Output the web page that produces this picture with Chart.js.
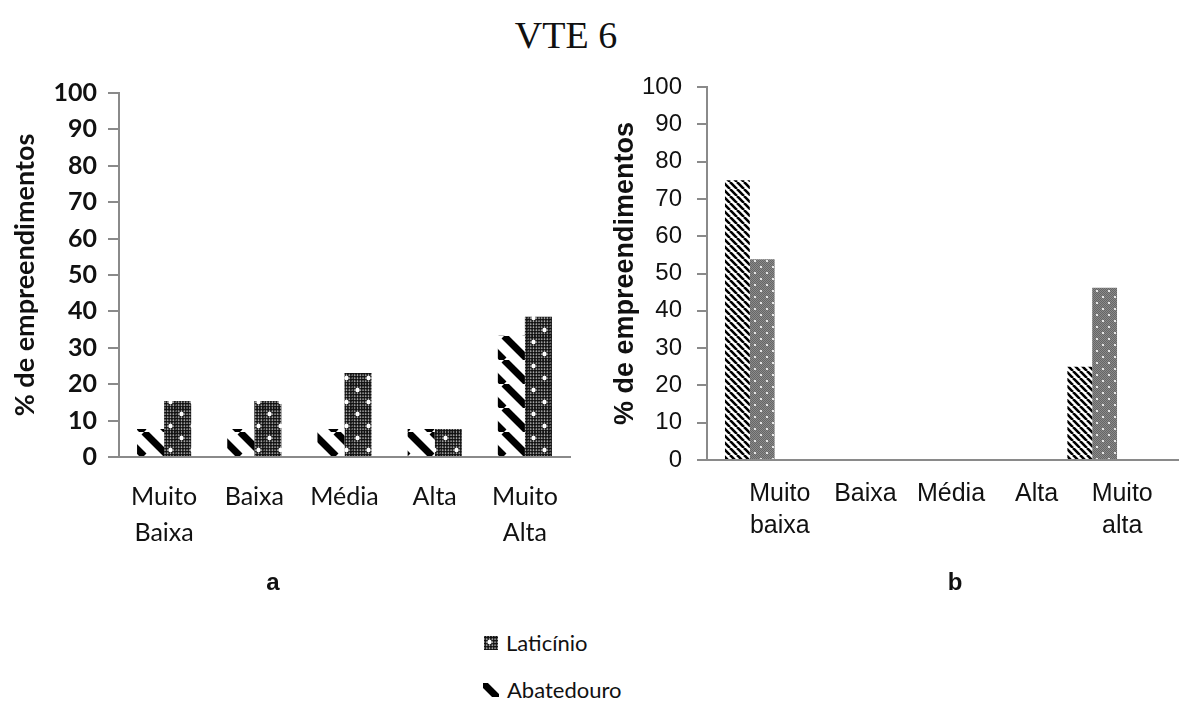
<!DOCTYPE html>
<html>
<head>
<meta charset="utf-8">
<script src="https://cdn.jsdelivr.net/npm/chart.js@4.4.0/dist/chart.umd.min.js"></script>
<style>
  body { margin: 0; background: #fff; }
  #pagina { position: relative; width: 1179px; height: 709px; overflow: hidden; background: #fff; }
  #titulo {
    position: absolute; left: 466px; top: 13px; width: 200px; text-align: center;
    font-family: 'Liberation Serif', 'Times New Roman', serif; font-size: 38px; line-height: 44px; color: #111;
  }
  canvas.grafico { position: absolute; top: 0; }
  .painel {
    position: absolute; width: 40px; text-align: center; top: 568px; line-height: 28px;
    font-family: 'Liberation Sans', Arial, sans-serif; font-weight: bold; font-size: 24px; color: #111;
  }
  .item-legenda {
    position: absolute; height: 28px; line-height: 28px;
    font-family: Lato, 'Open Sans', sans-serif; font-size: 22px; color: #111;
  }
  .item-legenda canvas { position: absolute; top: 7px; left: 0; }
  .item-legenda span { position: absolute; white-space: nowrap; }
</style>
</head>
<body>
<div id="pagina">
  <div id="titulo">VTE 6</div>
  <canvas id="graficoA" class="grafico" width="590" height="610" style="left:0px"></canvas>
  <canvas id="graficoB" class="grafico" width="589" height="610" style="left:590px"></canvas>
  <div id="paineis"></div>
  <div id="legenda"></div>
</div>
<script>
// Dados
const nomesSeries = ['Abatedouro', 'Laticínio'];
const categoriasA = [['Muito', 'Baixa'], 'Baixa', 'Média', 'Alta', ['Muito', 'Alta']];
const categoriasB = [['Muito', 'baixa'], 'Baixa', 'Média', 'Alta', ['Muito', 'alta']];
const abatedouroA = [7.7, 7.7, 7.7, 7.7, 33.3];
const laticinioA = [15.4, 15.4, 23.1, 7.7, 38.5];
const abatedouroB = [75, 0, 0, 0, 25];
const laticinioB = [53.8, 0, 0, 0, 46.2];
const eixoYMin = 0;
const eixoYMax = 100;
const eixoYPasso = 10;
const tituloEixoY = '% de empreendimentos';
const rotulosPaineis = ['a', 'b'];

const corEixo = '#8a8a8a';
const corTexto = '#111';

// Listras diagonais "\" pretas sobre branco
function listras(periodo, espessura) {
    const c = document.createElement('canvas');
    c.width = periodo; c.height = periodo;
    const g = c.getContext('2d');
    g.fillStyle = '#fff';
    g.fillRect(0, 0, periodo, periodo);
    g.strokeStyle = '#000';
    g.lineWidth = espessura;
    g.beginPath();
    [-periodo, 0, periodo].forEach(d => {
        g.moveTo(d, 0);
        g.lineTo(d + periodo, periodo);
    });
    g.stroke();
    return c;
}

// Textura escura quadriculada com bolinhas brancas (gráfico a)
function texturaEscura() {
    const c = document.createElement('canvas');
    c.width = 22; c.height = 24;
    const g = c.getContext('2d');
    g.fillStyle = '#fff';
    g.fillRect(0, 0, 22, 24);
    g.fillStyle = '#111';
    for (let x = 0; x < 22; x += 2.75) {
        for (let y = 0; y < 24; y += 3) {
            g.beginPath();
            g.arc(x + 1.4, y + 1.5, 1.55, 0, Math.PI * 2);
            g.fill();
        }
    }
    g.fillStyle = '#fff';
    [[5.5, 6], [16.5, 18]].forEach(([x, y]) => {
        g.beginPath();
        g.arc(x, y, 2.2, 0, Math.PI * 2);
        g.fill();
    });
    return c;
}

// Textura cinza pontilhada (gráfico b)
function texturaCinza() {
    const c = document.createElement('canvas');
    c.width = 12; c.height = 12;
    const g = c.getContext('2d');
    g.fillStyle = '#8a8a8a';
    g.fillRect(0, 0, 12, 12);
    g.fillStyle = '#666';
    for (let x = 0; x < 12; x++) {
        for (let y = 0; y < 12; y++) {
            if ((x + y) % 2 === 0) g.fillRect(x, y, 1, 1);
        }
    }
    g.fillStyle = '#fff';
    [[3, 3], [9, 9]].forEach(([x, y]) => {
        g.beginPath();
        g.arc(x, y, 1.1, 0, Math.PI * 2);
        g.fill();
    });
    return c;
}

// Estende a linha do eixo x até a borda do canvas
const extensaoEixo = {
    id: 'extensaoEixo',
    afterDraw(chart, args, opts) {
        if (!opts.ativo) return;
        const { ctx, chartArea } = chart;
        ctx.save();
        ctx.strokeStyle = corEixo;
        ctx.lineWidth = 2;
        ctx.beginPath();
        ctx.moveTo(chartArea.right - 1, chartArea.bottom);
        ctx.lineTo(chart.width, chartArea.bottom);
        ctx.stroke();
        ctx.restore();
    }
};

// Função para criar cada gráfico de barras
function criarGrafico(idCanvas, categorias, abatedouro, laticinio, cfg) {
    const ctx = document.getElementById(idCanvas).getContext('2d');
    const padraoAbat = ctx.createPattern(cfg.imgAbat, 'repeat');
    const padraoLat = ctx.createPattern(cfg.imgLat, 'repeat');

    const config = {
        type: 'bar',
        data: {
            labels: categorias,
            datasets: [
                {
                    label: nomesSeries[0],
                    data: abatedouro,
                    backgroundColor: padraoAbat,
                    borderWidth: 0,
                    categoryPercentage: cfg.categoria,
                    barPercentage: 1
                },
                {
                    label: nomesSeries[1],
                    data: laticinio,
                    backgroundColor: padraoLat,
                    borderWidth: 0,
                    categoryPercentage: cfg.categoria,
                    barPercentage: 1
                }
            ]
        },
        options: {
            responsive: false,
            animation: false,
            devicePixelRatio: 1,
            layout: { padding: cfg.padding },
            plugins: {
                legend: { display: false },
                tooltip: { enabled: false },
                extensaoEixo: { ativo: cfg.estenderEixo }
            },
            scales: {
                x: {
                    grid: { display: false, drawTicks: false },
                    border: { display: true, color: corEixo, width: 2 },
                    ticks: {
                        color: corTexto,
                        font: { family: cfg.fonte, size: cfg.tamanhoX, lineHeight: cfg.alturaLinhaX },
                        padding: cfg.paddingX,
                        labelOffset: cfg.deslocamentoRotulo,
                        maxRotation: 0,
                        autoSkip: false
                    },
                    afterFit: s => { s.height = cfg.alturaEixoX; }
                },
                y: {
                    min: eixoYMin,
                    max: eixoYMax,
                    ticks: {
                        stepSize: eixoYPasso,
                        color: corTexto,
                        font: { family: cfg.fonte, size: cfg.tamanhoY, weight: cfg.pesoY },
                        padding: cfg.paddingY
                    },
                    grid: {
                        drawOnChartArea: false,
                        drawTicks: true,
                        tickLength: cfg.marca,
                        color: corEixo,
                        lineWidth: 2
                    },
                    border: { color: corEixo, width: 2 },
                    title: {
                        display: true,
                        text: tituloEixoY,
                        color: corTexto,
                        font: { family: cfg.fonte, size: cfg.tamanhoTitulo, weight: 'bold' },
                        padding: { top: cfg.paddingTitulo, bottom: 0 }
                    },
                    afterFit: s => { s.width = cfg.larguraEixoY; }
                }
            }
        },
        plugins: [extensaoEixo]
    };

    return new Chart(ctx, config);
}

const imgListraGrossa = listras(24, 7);
const imgListraFina = listras(7, 2.6);
const imgEscura = texturaEscura();
const imgCinza = texturaCinza();

criarGrafico('graficoA', categoriasA, abatedouroA, laticinioA, {
    imgAbat: imgListraGrossa, imgLat: imgEscura,
    categoria: 0.6,
    padding: { top: 93, right: 20, bottom: 0, left: 0 },
    fonte: 'Lato', tamanhoX: 25, alturaLinhaX: 1.44, paddingX: 22, deslocamentoRotulo: 0,
    tamanhoY: 25, pesoY: 'bold', paddingY: 11, marca: 11,
    tamanhoTitulo: 27, paddingTitulo: 9,
    larguraEixoY: 119, alturaEixoX: 153,
    estenderEixo: false
});

criarGrafico('graficoB', categoriasB, abatedouroB, laticinioB, {
    imgAbat: imgListraFina, imgLat: imgCinza,
    categoria: 0.58,
    padding: { top: 87, right: 44, bottom: 0, left: 0 },
    fonte: 'Liberation Sans', tamanhoX: 25, alturaLinhaX: 1.28, paddingX: 18, deslocamentoRotulo: 30,
    tamanhoY: 24, pesoY: 'normal', paddingY: 15, marca: 10,
    tamanhoTitulo: 27, paddingTitulo: 19,
    larguraEixoY: 117, alturaEixoX: 150,
    estenderEixo: true
});

// Rótulos dos painéis (a, b) abaixo de cada gráfico
function criarRotulosPaineis() {
    const centros = [273, 955];
    const div = document.getElementById('paineis');
    rotulosPaineis.forEach((texto, i) => {
        const el = document.createElement('div');
        el.className = 'painel';
        el.style.left = (centros[i] - 20) + 'px';
        el.textContent = texto;
        div.appendChild(el);
    });
}

// Legenda montada a partir das séries (Laticínio em cima)
function criarLegenda() {
    const legenda = document.getElementById('legenda');
    const itens = [
        { nome: nomesSeries[1], img: imgEscura, x: 484, y: 629, w: 14, h: 14 },
        { nome: nomesSeries[0], img: imgListraGrossa, x: 483, y: 676, w: 16, h: 14 }
    ];
    itens.forEach(item => {
        const div = document.createElement('div');
        div.className = 'item-legenda';
        div.style.left = item.x + 'px';
        div.style.top = item.y + 'px';
        const c = document.createElement('canvas');
        c.width = item.w; c.height = item.h;
        const g = c.getContext('2d');
        g.fillStyle = g.createPattern(item.img, 'repeat');
        g.fillRect(0, 0, item.w, item.h);
        div.appendChild(c);
        const span = document.createElement('span');
        span.textContent = item.nome;
        span.style.left = (item.w + 8) + 'px';
        div.appendChild(span);
        legenda.appendChild(div);
    });
}

criarRotulosPaineis();
criarLegenda();
</script>
</body>
</html>
